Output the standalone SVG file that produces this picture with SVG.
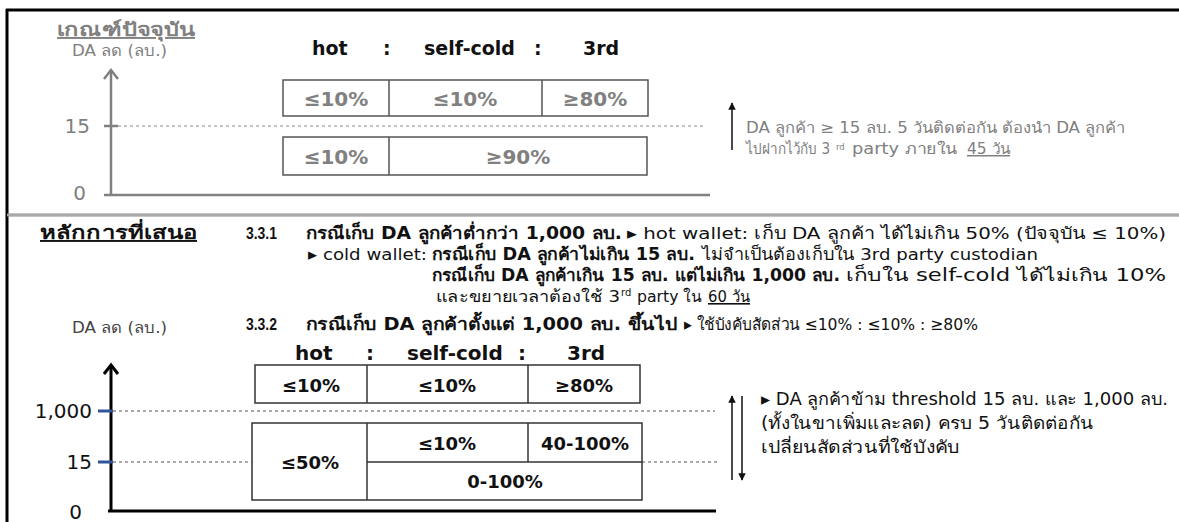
<svg xmlns="http://www.w3.org/2000/svg" width="1179" height="522" viewBox="0 0 1179 522">
<style>
text{font-family:"DejaVu Sans","Noto Sans",sans-serif;}
.lat{font-family:"Liberation Sans",Arial,sans-serif;}
.g{fill:#808080;}
.k{fill:#111;}
.b{font-weight:bold;}
.u{text-decoration:underline;}
.cell{fill:none;stroke:#555;stroke-width:1.5;}
.cellk{fill:none;stroke:#333;stroke-width:1.5;}
.dash{stroke:#888;stroke-width:1;stroke-dasharray:3 3;fill:none;}
.dashk{stroke:#555;stroke-width:1;stroke-dasharray:3 3;fill:none;}
.mid{text-anchor:middle;}
</style>
<defs>
<marker id="ah" viewBox="0 0 10 10" refX="9" refY="5" markerWidth="5" markerHeight="5" orient="auto"><path d="M0,0 L10,5 L0,10 z" fill="#111"/></marker>
</defs>
<rect width="1179" height="522" fill="#fff"/>
<g id="frame">
<line x1="6" y1="10" x2="1179" y2="10" stroke="#000" stroke-width="3"/>
<line x1="7" y1="9" x2="7" y2="522" stroke="#000" stroke-width="3"/>
<line x1="7" y1="215" x2="1179" y2="215" stroke="#8a8a8a" stroke-width="3"/>
<line x1="7" y1="215" x2="1179" y2="215" stroke="#d8d8d8" stroke-width="0.8"/>
</g>
<!-- TOP SECTION -->
<g id="top-titles">
<text x="57" y="36" class="g b u" font-size="19" textLength="138" lengthAdjust="spacingAndGlyphs">เกณฑ์ปัจจุบัน</text>
<text x="72" y="56" class="g" font-size="15" textLength="95" lengthAdjust="spacingAndGlyphs">DA ลด (ลบ.)</text>
<text x="312" y="55" class="k b" font-size="19">hot</text>
<text x="383" y="55" class="k b" font-size="19">:</text>
<text x="424" y="55" class="k b" font-size="19">self-cold</text>
<text x="534" y="55" class="k b" font-size="19">:</text>
<text x="583" y="55" class="k b" font-size="19">3rd</text>
</g>
<g id="top-axis" stroke="#808080" stroke-width="2.5" fill="none">
<line x1="111" y1="70" x2="111" y2="196"/>
<path d="M104,79 L111,70 L118,79"/>
<line x1="104" y1="195" x2="710" y2="195"/>
<line x1="104" y1="126" x2="118" y2="126"/>
</g>
<g id="top-axis-labels">
<text x="90" y="133" class="g" font-size="20" text-anchor="end">15</text>
<text x="86" y="200" class="g" font-size="20" text-anchor="end">0</text>
</g>
<g id="connectors">
<line x1="118" y1="126" x2="705" y2="126" class="dash"/>
<line x1="732" y1="150" x2="732" y2="103" stroke="#111" stroke-width="1.5" marker-end="url(#ah)"/>
<line x1="113" y1="411" x2="715" y2="411" class="dashk"/>
<line x1="113" y1="462" x2="252" y2="462" class="dashk"/>
<line x1="642" y1="462" x2="717" y2="462" class="dashk"/>
<line x1="732" y1="480" x2="732" y2="396" stroke="#111" stroke-width="1.5" marker-end="url(#ah)"/>
<line x1="742" y1="396" x2="742" y2="480" stroke="#111" stroke-width="1.5" marker-end="url(#ah)"/>
</g>
<g id="top-row1">
<rect x="283" y="80" width="365" height="36" class="cell"/>
<line x1="389" y1="80" x2="389" y2="116" class="cell"/>
<line x1="542" y1="80" x2="542" y2="116" class="cell"/>
<text x="336" y="106" class="g b mid" font-size="20">≤10%</text>
<text x="465" y="106" class="g b mid" font-size="20">≤10%</text>
<text x="595" y="106" class="g b mid" font-size="20">≥80%</text>
</g>
<g id="top-row2">
<rect x="283" y="137" width="364" height="38" class="cell"/>
<line x1="389" y1="137" x2="389" y2="175" class="cell"/>
<text x="336" y="164" class="g b mid" font-size="20">≤10%</text>
<text x="518" y="164" class="g b mid" font-size="20">≥90%</text>
</g>
<g id="top-note">
<text x="746" y="133" class="g" font-size="15" textLength="379" lengthAdjust="spacingAndGlyphs">DA ลูกค้า ≥ 15 ลบ. 5 วันติดต่อกัน ต้องนำ DA ลูกค้า</text>
<text x="746" y="154" class="g" font-size="15" textLength="84" lengthAdjust="spacingAndGlyphs">ไปฝากไว้กับ 3</text>
<text x="836" y="150" class="g" font-size="8.5">rd</text>
<text x="852" y="154" class="g" font-size="15" textLength="105" lengthAdjust="spacingAndGlyphs">party ภายใน</text>
<text x="967" y="154" class="g u" font-size="15" textLength="43" lengthAdjust="spacingAndGlyphs">45 วัน</text>
</g>
<!-- BOTTOM SECTION -->
<g id="proposal-text">
<text x="40" y="239" class="k b u" font-size="19" textLength="157" lengthAdjust="spacingAndGlyphs">หลักการที่เสนอ</text>
<text x="246" y="239" class="k b lat" font-size="16" textLength="31" lengthAdjust="spacingAndGlyphs">3.3.1</text>
<text x="306" y="239" class="k b" font-size="17" textLength="316" lengthAdjust="spacingAndGlyphs">กรณีเก็บ DA ลูกค้าต่ำกว่า 1,000 ลบ.</text>
<text x="627" y="239" class="k" font-size="16.5" textLength="539" lengthAdjust="spacingAndGlyphs">▸ hot wallet: เก็บ DA ลูกค้า ได้ไม่เกิน 50% (ปัจจุบัน ≤ 10%)</text>
<text x="308" y="260" class="k" font-size="16.5" textLength="119" lengthAdjust="spacingAndGlyphs">▸ cold wallet:</text>
<text x="432" y="260" class="k b" font-size="17" textLength="263" lengthAdjust="spacingAndGlyphs">กรณีเก็บ DA ลูกค้าไม่เกิน 15 ลบ.</text>
<text x="702" y="260" class="k" font-size="16.5" textLength="336" lengthAdjust="spacingAndGlyphs">ไม่จำเป็นต้องเก็บใน 3rd party custodian</text>
<text x="432" y="281" class="k b" font-size="17" textLength="408" lengthAdjust="spacingAndGlyphs">กรณีเก็บ DA ลูกค้าเกิน 15 ลบ. แต่ไม่เกิน 1,000 ลบ.</text>
<text x="846" y="281" class="k" font-size="17" textLength="320" lengthAdjust="spacingAndGlyphs">เก็บใน self-cold ได้ไม่เกิน 10%</text>
<text x="436" y="302" class="k" font-size="16" textLength="184" lengthAdjust="spacingAndGlyphs">และขยายเวลาต้องใช้ 3</text>
<text x="621" y="296" class="k" font-size="10">rd</text>
<text x="637" y="302" class="k" font-size="16" textLength="65" lengthAdjust="spacingAndGlyphs">party ใน</text>
<text x="708" y="302" class="k u" font-size="16" textLength="42" lengthAdjust="spacingAndGlyphs">60 วัน</text>
<text x="246" y="330" class="k b lat" font-size="16" textLength="31" lengthAdjust="spacingAndGlyphs">3.3.2</text>
<text x="306" y="330" class="k b" font-size="17" textLength="372" lengthAdjust="spacingAndGlyphs">กรณีเก็บ DA ลูกค้าตั้งแต่ 1,000 ลบ. ขึ้นไป</text>
<text x="684" y="330" class="k" font-size="16.5" textLength="294" lengthAdjust="spacingAndGlyphs">▸ ใช้บังคับสัดส่วน ≤10% : ≤10% : ≥80%</text>
</g>
<g id="bottom-axis">
<text x="72" y="333" fill="#444" font-size="15" textLength="95" lengthAdjust="spacingAndGlyphs">DA ลด (ลบ.)</text>
<line x1="111" y1="365" x2="111" y2="512" stroke="#000" stroke-width="3"/>
<path d="M104,374 L111,365 L118,374" stroke="#000" stroke-width="3" fill="none"/>
<line x1="108" y1="511" x2="716" y2="511" stroke="#000" stroke-width="3"/>
<line x1="98" y1="411" x2="113" y2="411" stroke="#2e5597" stroke-width="3"/>
<line x1="98" y1="462" x2="113" y2="462" stroke="#2e5597" stroke-width="3"/>
<text x="92" y="418" class="k" font-size="20" text-anchor="end">1,000</text>
<text x="92" y="469" class="k" font-size="20" text-anchor="end">15</text>
<text x="82" y="519" class="k" font-size="20" text-anchor="end">0</text>
</g>
<g id="bottom-header">
<text x="295" y="360" class="k b" font-size="20">hot</text>
<text x="366" y="360" class="k b" font-size="20">:</text>
<text x="407" y="360" class="k b" font-size="20">self-cold</text>
<text x="518" y="360" class="k b" font-size="20">:</text>
<text x="567" y="360" class="k b" font-size="20">3rd</text>
</g>
<g id="bottom-row1">
<rect x="255" y="365" width="385" height="38" class="cellk"/>
<line x1="367" y1="365" x2="367" y2="403" class="cellk"/>
<line x1="528" y1="365" x2="528" y2="403" class="cellk"/>
<text x="311" y="392" class="k b mid" font-size="18">≤10%</text>
<text x="447" y="392" class="k b mid" font-size="18">≤10%</text>
<text x="584" y="392" class="k b mid" font-size="18">≥80%</text>
</g>
<g id="bottom-row2">
<rect x="252" y="423" width="390" height="77" class="cellk"/>
<line x1="367" y1="423" x2="367" y2="500" class="cellk"/>
<line x1="367" y1="462" x2="642" y2="462" class="cellk"/>
<line x1="528" y1="423" x2="528" y2="462" class="cellk"/>
<text x="310" y="469" class="k b mid" font-size="18">≤50%</text>
<text x="447" y="450" class="k b mid" font-size="18">≤10%</text>
<text x="585" y="450" class="k b mid" font-size="18">40-100%</text>
<text x="505" y="488" class="k b mid" font-size="18">0-100%</text>
</g>
<g id="bottom-note">
<text x="761" y="405" class="k" font-size="17" textLength="407" lengthAdjust="spacingAndGlyphs">▸ DA ลูกค้าข้าม threshold 15 ลบ. และ 1,000 ลบ.</text>
<text x="761" y="429" class="k" font-size="17" textLength="332" lengthAdjust="spacingAndGlyphs">(ทั้งในขาเพิ่มและลด) ครบ 5 วันติดต่อกัน</text>
<text x="761" y="453" class="k" font-size="17" textLength="199" lengthAdjust="spacingAndGlyphs">เปลี่ยนสัดส่วนที่ใช้บังคับ</text>
</g>
</svg>
